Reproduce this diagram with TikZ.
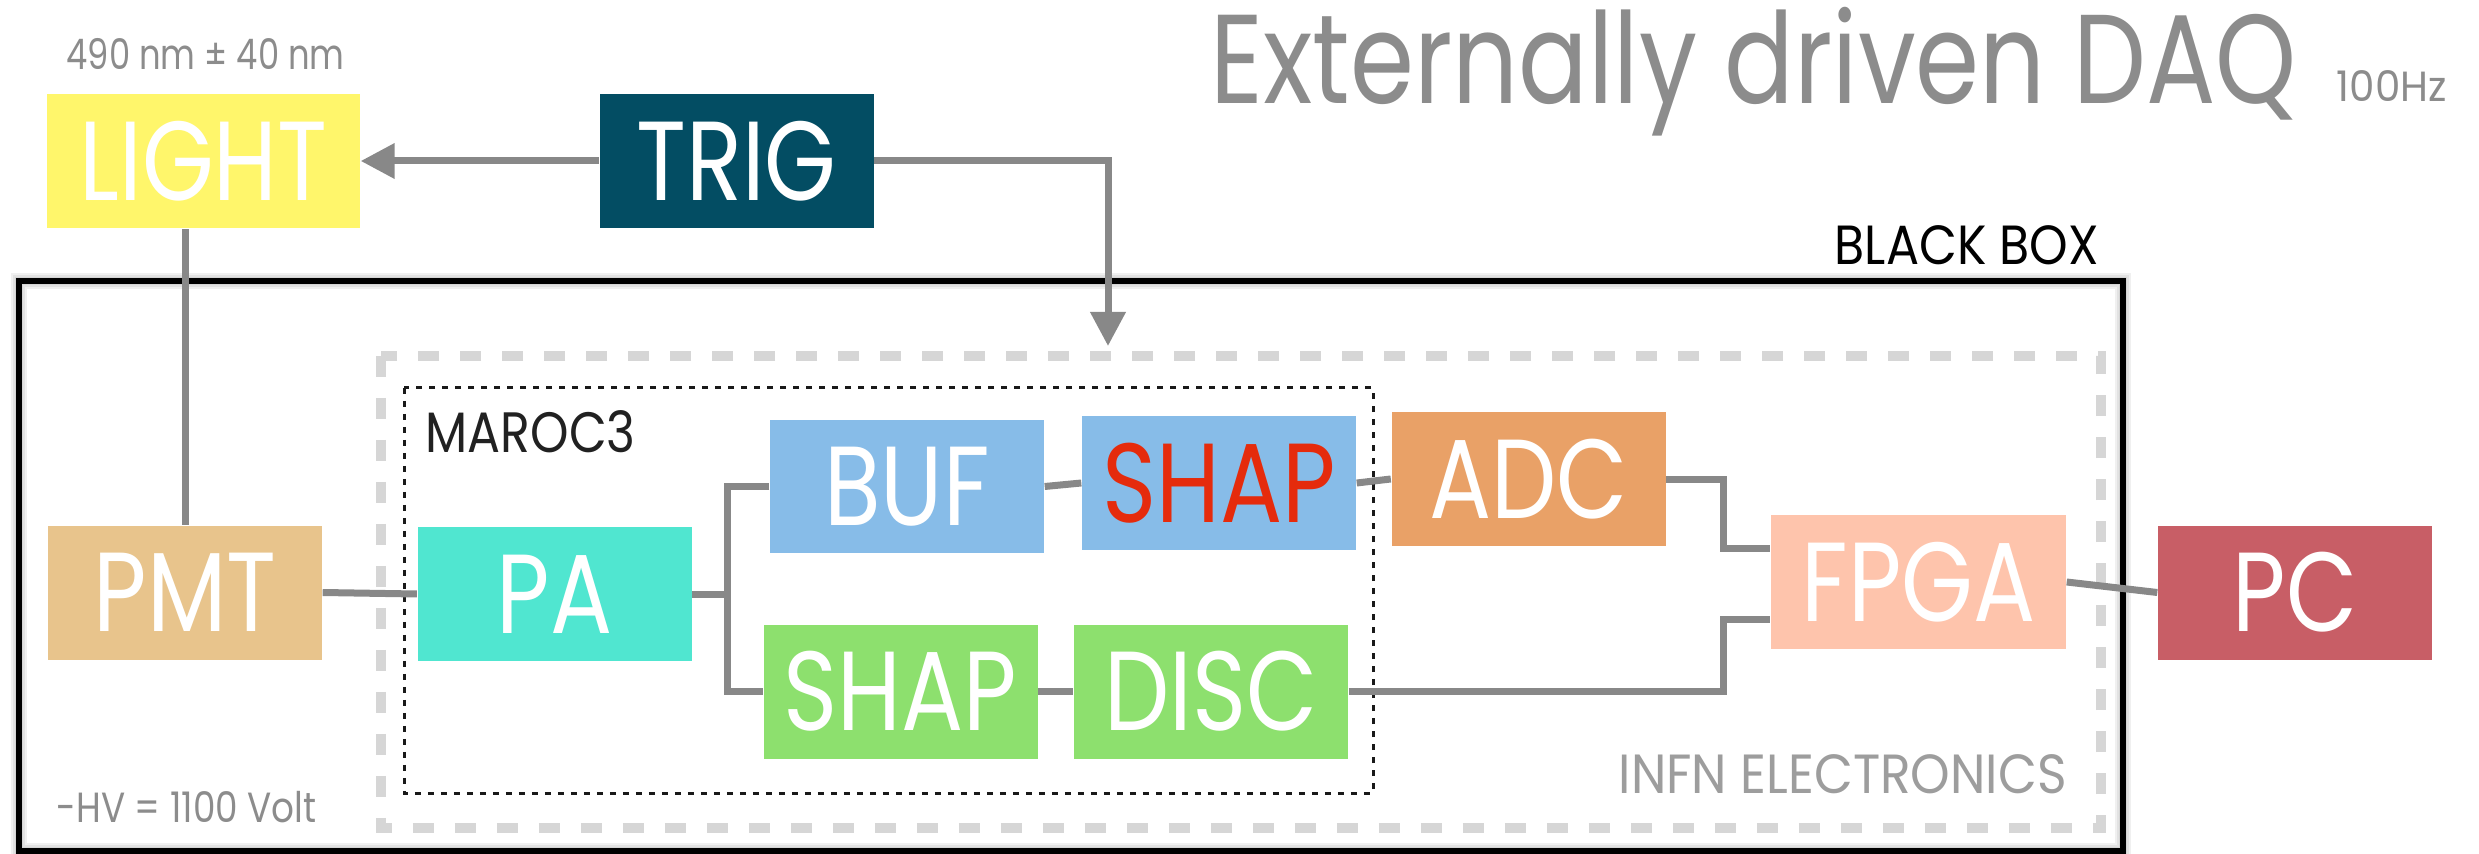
\documentclass[tikz,border=0pt]{standalone}
\usepackage{fontspec}
\setmainfont{Poppins}
\usepackage{graphicx}
\usetikzlibrary{positioning, arrows.meta, calc}

\definecolor{lightcol}{RGB}{255,246,107}
\definecolor{trigcol}{RGB}{3,77,99}
\definecolor{pmtcol}{RGB}{232,196,140}
\definecolor{pacol}{RGB}{80,230,208}
\definecolor{bufcol}{RGB}{135,188,232}
\definecolor{shapred}{RGB}{229,43,12}
\definecolor{adccol}{RGB}{233,161,103}
\definecolor{greencol}{RGB}{141,224,110}
\definecolor{fpgacol}{RGB}{254,196,172}
\definecolor{pccol}{RGB}{200,94,102}
\definecolor{wirecol}{RGB}{136,136,136}
\definecolor{dashcol}{RGB}{214,214,214}
\definecolor{notecol}{RGB}{140,140,140}

% squeeze box labels a bit
\newcommand{\sqz}[1]{\scalebox{0.82}[1]{#1}}
% set a free label to a given width
\newcommand{\fitw}[2]{\resizebox{#1}{\height}{#2}}

\begin{document}
\begin{tikzpicture}[
  x=0.1mm, y=-0.1mm,
  >={Triangle[length=3.4mm,width=3.4mm]},
  blk/.style={inner sep=0pt, minimum width=27.4mm, minimum height=13.4mm,
              text=white, font=\fontsize{32}{32}\selectfont},
  wire/.style={draw=wirecol, line width=0.7mm},
  note/.style={inner sep=0pt, anchor=base west, text=notecol},
]
\useasboundingbox (0,0) rectangle (2479,854);

% Black box with soft shadow
\foreach \w in {4,8,12,16}
  \draw[black, opacity=0.06, line width=\w*0.1mm] (19,281) rectangle (2123,851);
\draw[black, line width=0.55mm] (19,281) rectangle (2123,851);

% INFN electronics and MAROC3 frames
\draw[dashcol, line width=1mm, dash pattern=on 2.1mm off 2.1mm] (381,356) rectangle (2101,828);
\draw[black!90, line width=0.3mm, dash pattern=on 0.6mm off 0.7mm] (404,388) rectangle (1373,793);

% Blocks
\node[blk, fill=lightcol, minimum width=31.3mm] (LIGHT) at (203.5,161) {\sqz{LIGHT}};
\node[blk, fill=trigcol] (TRIG) at (736.5,161) {\sqz{TRIG}};
\node[blk, fill=pmtcol] (PMT) at (185,592.5) {\sqz{PMT}};
\node[blk, fill=pacol] (PA) at (554.5,594) {\sqz{PA}};
\node[blk, fill=bufcol] (BUF) at (907,486.5) {\sqz{BUF}};
\node[blk, fill=bufcol, text=shapred] (SHAPB) at (1219,483) {\sqz{SHAP}};
\node[blk, fill=adccol] (ADC) at (1528.5,479) {\sqz{ADC}};
\node[blk, fill=greencol] (SHAPG) at (900.5,691.5) {\sqz{SHAP}};
\node[blk, fill=greencol] (DISC) at (1211,691.5) {\sqz{DISC}};
\node[blk, fill=fpgacol, minimum width=29.5mm] (FPGA) at (1918.5,582) {\sqz{FPGA}};
\node[blk, fill=pccol] (PC) at (2295,592.5) {\sqz{PC}};

% Labels
\node[note] (title) at (1210,103) {\fontsize{36}{36}\selectfont\fitw{108.6mm}{Externally driven DAQ}};
\node[note] (rate) at (2336,102) {\fontsize{12}{12}\selectfont\fitw{11mm}{100Hz}};
\node[note] (wave) at (66,70) {\fontsize{12}{12}\selectfont\fitw{27.8mm}{490 nm ±  40 nm}};
\node[note] (hv) at (56,822) {\fontsize{12}{12}\selectfont\fitw{26mm}{-HV = 1100 Volt}};
\node[note, text=black] (bbox) at (1834,265) {\fontsize{15.7}{15.7}\selectfont\fitw{26.4mm}{BLACK BOX}};
\node[note, text=black!87] (maroc) at (425,452) {\fontsize{16.2}{16.2}\selectfont\fitw{21mm}{MAROC3}};
\node[note, text=notecol!85] (infn) at (1618,793) {\fontsize{15.7}{15.7}\selectfont\fitw{44.8mm}{INFN ELECTRONICS}};

% Connectors
\coordinate (trigin) at (1108,346);
\coordinate (split) at ($(PA.east)+(35,0)$);
\coordinate (adcbend) at ($(ADC.east)+(57,0)$);
\coordinate (fpgaup) at ($(FPGA.north west)!0.25!(FPGA.south west)$);
\coordinate (fpgalow) at ($(FPGA.north west)!0.78!(FPGA.south west)$);

\draw[wire, ->] (TRIG.west) -- (LIGHT.east);
\draw[wire, ->] (TRIG.east) -| (trigin);
\draw[wire] (PMT.north) -- (PMT.north |- LIGHT.south);
\draw[wire] (PMT.east) -- (PA.west);
\draw[wire] (PA.east) -- (split);
\draw[wire] (BUF.west) -| (split) |- (SHAPG.west);
\draw[wire] (BUF.east) -- (SHAPB.west);
\draw[wire] (SHAPB.east) -- (ADC.west);
\draw[wire] (SHAPG.east) -- (DISC.west);
\draw[wire] (ADC.east) -- (adcbend) |- (fpgaup);
\draw[wire] (DISC.east) -- (DISC.east -| adcbend) |- (fpgalow);
\draw[wire] (FPGA.east) -- (PC.west);

\end{tikzpicture}
\end{document}
